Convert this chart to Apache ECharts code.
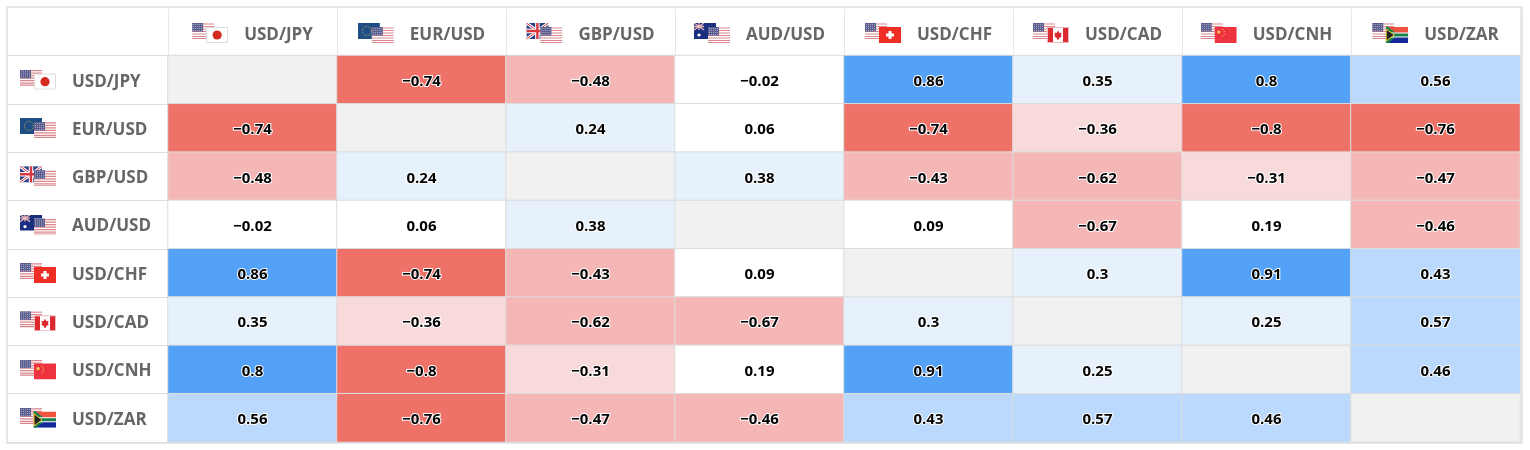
<!DOCTYPE html>
<html>
<head>
<meta charset="utf-8">
<title>Correlation</title>
<style>
  html, body { margin: 0; padding: 0; background: #fff; }
  #main { width: 1530px; height: 450px; }
</style>
<script src="https://cdn.jsdelivr.net/npm/echarts@6/dist/echarts.min.js"></script>
</head>
<body>
<div id="main"></div>
<script>
var pairs = ["USD/JPY", "EUR/USD", "GBP/USD", "AUD/USD", "USD/CHF", "USD/CAD", "USD/CNH", "USD/ZAR"];
// null on the diagonal, those cells are the grey blanks
var rowJPY = [null, -0.74, -0.48, -0.02, 0.86, 0.35, 0.8, 0.56];
var rowEUR = [-0.74, null, 0.24, 0.06, -0.74, -0.36, -0.8, -0.76];
var rowGBP = [-0.48, 0.24, null, 0.38, -0.43, -0.62, -0.31, -0.47];
var rowAUD = [-0.02, 0.06, 0.38, null, 0.09, -0.67, 0.19, -0.46];
var rowCHF = [0.86, -0.74, -0.43, 0.09, null, 0.3, 0.91, 0.43];
var rowCAD = [0.35, -0.36, -0.62, -0.67, 0.3, null, 0.25, 0.57];
var rowCNH = [0.8, -0.8, -0.31, 0.19, 0.91, 0.25, null, 0.46];
var rowZAR = [0.56, -0.76, -0.47, -0.46, 0.43, 0.57, 0.46, null];
var rows = [rowJPY, rowEUR, rowGBP, rowAUD, rowCHF, rowCAD, rowCNH, rowZAR];

// 22x16 flag drawings
var usFlag = '<rect width="22" height="16" fill="#fff"/>' +
  '<path d="M0 1h22M0 3.5h22M0 6h22M0 8.5h22M0 11h22M0 13.5h22M0 15.5h22" stroke="#d9868c" stroke-width="1.2"/>' +
  '<rect width="11" height="8.5" fill="#5a5c8e"/>' +
  '<path d="M1 1.5h9M1 3.5h9M1 5.5h9M1 7.5h9" stroke="#b9bbd6" stroke-width=".8" stroke-dasharray="1 1"/>';
var flags = {
  JPY: '<rect x=".5" y=".5" width="21" height="15" fill="#fff" stroke="#ddd"/><circle cx="11" cy="8" r="4.6" fill="#d32a20"/>',
  EUR: '<rect width="22" height="16" fill="#1f4e85"/><circle cx="9" cy="8" r="4.5" fill="none" stroke="#d9c24a" stroke-width=".9" stroke-dasharray="1 1.4"/>',
  GBP: '<rect width="22" height="16" fill="#2b3f86"/><path d="M0 0L22 16M22 0L0 16" stroke="#fff" stroke-width="3"/><path d="M0 0L22 16M22 0L0 16" stroke="#d9363e" stroke-width="1"/><path d="M11 0V16M0 8H22" stroke="#fff" stroke-width="4.5"/><path d="M11 0V16M0 8H22" stroke="#d9363e" stroke-width="2.4"/>',
  AUD: '<rect width="22" height="16" fill="#1b2f80"/><path d="M0 0L10 7M10 0L0 7M5 0V7M0 3.5H10" stroke="#e8b5b8" stroke-width="1.3"/><circle cx="5" cy="12" r="1.6" fill="#fff"/><circle cx="17" cy="5" r="1" fill="#fff"/>',
  CHF: '<rect width="22" height="16" fill="#ee2e24"/><path d="M11 4V12M7 8H15" stroke="#fff" stroke-width="3"/>',
  CAD: '<rect x=".5" y=".5" width="21" height="15" fill="#fff" stroke="#e9b9bb"/><rect x="1" y="1" width="5" height="14" fill="#dd2a30"/><rect x="16" y="1" width="5" height="14" fill="#dd2a30"/><path d="M11 3.5L12.5 6L14.5 5.5L14 8.5L15 9L12 11.2V12.5H10V11.2L7 9L8 8.5L7.5 5.5L9.5 6Z" fill="#dd2a30"/>',
  CNH: '<rect width="22" height="16" fill="#ee3340"/><circle cx="4" cy="5" r="1.6" fill="#f6d24a"/><circle cx="8" cy="2.5" r=".6" fill="#f6d24a"/><circle cx="9.5" cy="4.5" r=".6" fill="#f6d24a"/><circle cx="9.5" cy="7" r=".6" fill="#f6d24a"/><circle cx="8" cy="9" r=".6" fill="#f6d24a"/>',
  ZAR: '<rect width="22" height="8" fill="#ef5440"/><rect y="8" width="22" height="8" fill="#16299a"/><path d="M0 0L10 8L0 16" fill="#f2c230" stroke="#17814a" stroke-width="2.6"/><path d="M0 8H22" stroke="#fff" stroke-width="5"/><path d="M0 8H22" stroke="#17814a" stroke-width="3"/><path d="M0 2L8 8L0 14Z" fill="#222" stroke="#f2c230" stroke-width="1"/>'
};

function flagUri(pair) {
  var parts = pair.split("/");
  // the USD flag is always the other one of the pair, base sits behind
  var back = parts[0] === "USD" ? usFlag : flags[parts[0]];
  var front = parts[0] === "USD" ? flags[parts[1]] : usFlag;
  var svg = '<svg xmlns="http://www.w3.org/2000/svg" width="36" height="20" viewBox="0 0 36 20">' +
    '<g>' + back + '</g><g transform="translate(14 4)">' + front + '</g></svg>';
  return "data:image/svg+xml;charset=utf-8," + encodeURIComponent(svg);
}

var richLabel = {
  gap: { width: 16 },
  name: { fontFamily: "Open Sans", fontSize: 17, fontWeight: 700, color: "#666", padding: [4, 0, 0, 0] }
};
pairs.forEach(function (p, i) {
  richLabel["f" + i] = { width: 36, height: 20, backgroundColor: { image: flagUri(p) } };
});
function pairLabel(value, index) {
  return "{f" + index + "|}{gap|}{name|" + value + "}";
}

var cells = [];
rows.forEach(function (row, y) {
  row.forEach(function (v, x) {
    // 1 on the diagonal, self correlation, gets the grey piece and no label
    cells.push([x, y, v === null ? 1 : v]);
  });
});

var myChart = echarts.init(document.getElementById("main"), null, { renderer: "canvas" });
var option = {
  animation: false,
  backgroundColor: "#fff",
  textStyle: { fontFamily: "Open Sans" },
  grid: { left: 168, right: 10, top: 55.5, bottom: 8 },
  graphic: [{
    type: "rect",
    silent: true,
    z: 0,
    shape: { x: 7, y: 7, width: 1515, height: 436 },
    style: { fill: "none", stroke: "#e2e8ea", lineWidth: 2 }
  }],
  xAxis: {
    type: "category",
    position: "top",
    data: pairs,
    axisLine: { lineStyle: { color: "#dfe1e8", width: 1 } },
    axisTick: { show: true, length: 47, alignWithLabel: false, lineStyle: { color: "#e8e8e8" } },
    axisLabel: { interval: 0, margin: 12, formatter: pairLabel, rich: richLabel },
    splitLine: { show: false }
  },
  yAxis: {
    type: "category",
    inverse: true,
    data: pairs,
    axisLine: { lineStyle: { color: "#e4e4e4", width: 1 } },
    axisTick: { show: true, length: 160, alignWithLabel: false, lineStyle: { color: "#dedede" } },
    axisLabel: { interval: 0, align: "left", margin: 148, formatter: pairLabel, rich: richLabel },
    splitLine: { show: false }
  },
  visualMap: {
    show: false,
    type: "piecewise",
    dimension: 2,
    seriesIndex: 0,
    pieces: [
      { lt: -0.7, color: "#ef7269" },
      { gte: -0.7, lt: -0.4, color: "#f5b7b6" },
      { gte: -0.4, lt: -0.2, color: "#f8dadb" },
      { gte: -0.2, lt: 0.2, color: "#ffffff" },
      { gte: 0.2, lt: 0.4, color: "#e7f1fc" },
      { gte: 0.4, lt: 0.7, color: "#bad9fd" },
      { gte: 0.7, lt: 0.95, color: "#54a1f8" },
      { gte: 0.95, color: "#f1f1f1" }
    ]
  },
  series: [{
    type: "heatmap",
    data: cells,
    itemStyle: { borderColor: "#dcdcdc", borderWidth: 1 },
    label: {
      show: true,
      fontFamily: "Open Sans",
      fontSize: 15,
      fontWeight: 700,
      color: "#000",
      textBorderColor: "#fff",
      textBorderWidth: 2,
      offset: [0, 2],
      formatter: function (p) {
        var v = p.value[2];
        if (v === 1) return "";
        return String(v).replace("-", "\u2212");
      }
    },
    emphasis: { disabled: true }
  }]
};
myChart.setOption(option);
</script>
</body>
</html>
